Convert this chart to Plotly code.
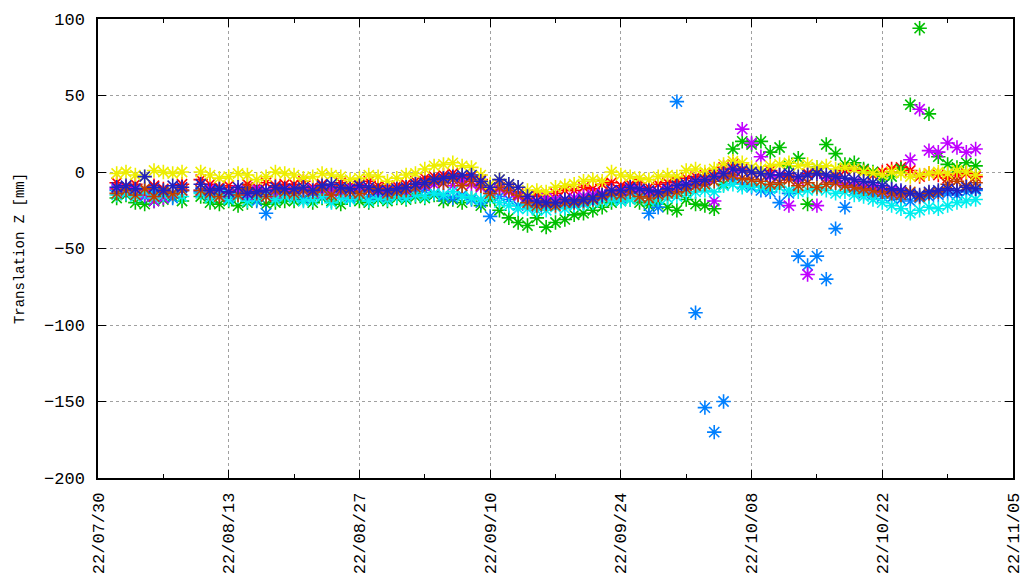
import pandas as pd
import plotly.graph_objects as go

# Daily epochs (08/09 missing)
dates = [d for d in pd.date_range("2022-08-01", "2022-11-01", freq="D") if d.strftime("%Y-%m-%d") != "2022-08-09"]

red = [-7, -10, -8, -12, -9, -11, -14, -8,
       -5, -8, -10, -9, -12, -8, -10, -7, -9, -8,
       -8, -6, -10, -8, -11, -7, -9, -8, -6, -9,
       -10, -9, -8, -6, -4, -3, -2, -1, -4, -3,
       -5, -12, -8, -10, -14, -16, -15, -16, -14, -12,
       -12, -10, -11, -8, -7, -9, -8, -7, -10, -8,
       -7, -6, -4, -3, -2, -1, 3, 5, 2, 0,
       -1, 1, -2, -3, -5, -1, 0, -4, -2, 1,
       2, 1, -2, 0, 2, 3, 1, -3, -1, -2,
       -4, -2, -1, -3]
green = [-17, -15, -20, -21, -19, -18, -16, -19,
         -16, -20, -21, -19, -22, -20, -18, -21, -20, -19,
         -19, -18, -20, -17, -19, -21, -18, -19, -20, -18,
         -19, -17, -18, -16, -17, -15, -19, -18, -20, -17,
         -22, -18, -25, -30, -33, -35, -30, -36, -33, -31,
         -28, -27, -25, -23, -20, -19, -18, -20, -22, -21,
         -23, -25, -18, -21, -22, -24, -8, 15, 20, 18,
         20, 13, 16, 4, 9, -21, 3, 18, 12, 5,
         6, 2, 0, -5, -3, 2, 44, 94, 38, 10,
         5, 3, 6, 4]
blue = [-12, -14, -11, -16, -13, -15, -17, -12,
        -13, -15, -12, -17, -14, -16, -19, -27, -16, -14,
        -15, -17, -14, -16, -13, -15, -17, -14, -16, -15,
        -16, -14, -15, -13, -12, -14, -16, -17, -15, -18,
        -20, -29, -16, -18, -22, -21, -23, -22, -20, -21,
        -21, -20, -18, -16, -15, -17, -14, -16, -27, -23,
        -12, 46, -10, -92, -154, -170, -150, -5, -8, -10,
        -12, -13, -20, -14, -55, -61, -55, -70, -37, -23,
        -12, -14, -15, -16, -17, -18, -19, -17, -16, -15,
        -14, -15, -13, -12]
magenta = [-11, -13, -12, -15, -19, -17, -14, -12,
           -12, -11, -14, -13, -12, -15, -11, -13, -14, -12,
           -13, -12, -11, -14, -12, -13, -10, -12, -11, -13,
           -12, -11, -13, -10, -9, -8, -7, -9, -6, -8,
           -10, -12, -11, -13, -16, -18, -19, -17, -18, -19,
           -17, -16, -15, -14, -12, -13, -11, -12, -14, -13,
           -12, -11, -9, -8, -7, -19, -2, 0, 28, 19,
           10, -3, -2, -22, -5, -67, -22, -4, -6, -8,
           -7, -9, -10, -11, -12, -13, 8, 41, 14, 13,
           19, 16, 13, 15]
cyan = [-15, -14, -16, -13, -17, -15, -14, -16,
        -14, -17, -15, -18, -16, -19, -17, -15, -18, -16,
        -17, -19, -18, -16, -20, -17, -18, -16, -19, -17,
        -18, -16, -17, -15, -16, -14, -15, -13, -16, -17,
        -18, -16, -20, -22, -24, -24, -25, -25, -23, -24,
        -22, -21, -20, -19, -18, -19, -18, -17, -19, -18,
        -17, -16, -14, -13, -12, -13, -9, -8, -10, -9,
        -10, -11, -10, -12, -13, -12, -11, -12, -14, -13,
        -15, -16, -18, -20, -22, -24, -27, -25, -23, -24,
        -22, -20, -19, -18]
brown = [-14, -12, -15, -11, -16, -13, -14, -12,
         -12, -14, -16, -13, -15, -11, -14, -16, -12, -13,
         -14, -12, -13, -11, -15, -12, -13, -14, -12, -11,
         -14, -13, -12, -10, -8, -6, -7, -5, -9, -6,
         -9, -14, -10, -12, -15, -20, -22, -21, -22, -20,
         -20, -19, -18, -16, -14, -15, -13, -16, -17, -15,
         -14, -13, -11, -9, -8, -6, -3, -2, -4, -5,
         -6, -8, -7, -5, -9, -7, -10, -8, -7, -9,
         -10, -11, -12, -13, -14, -15, -13, -16, -14, -13,
         -8, -6, -9, -7]
yellow = [-1, 0, -2, -3, 1, 0, -1, 0,
          0, -2, -4, -3, -1, -2, -5, -3, 0, -1,
          -2, -4, -3, -1, -2, -3, -5, -4, -2, -3,
          -6, -4, -2, -1, 2, 4, 5, 6, 4, 3,
          -2, -8, -5, -8, -10, -12, -12, -13, -10, -9,
          -8, -6, -5, -6, 0, -2, -3, -4, -5, -3,
          -2, -3, 1, 2, 0, 2, 5, 7, 6, 3,
          2, 4, 5, 6, 4, 5, 3, 4, 2, 3,
          2, 0, -1, -2, 0, -1, -3, -2, -1, 0,
          -1, 1, 0, -2]
navy = [-10, -9, -11, -3, -10, -12, -9, -10,
        -8, -12, -11, -13, -10, -14, -13, -12, -10, -11,
        -11, -10, -12, -9, -8, -10, -11, -9, -10, -12,
        -12, -11, -10, -8, -7, -5, -4, -3, -2, -2,
        -6, -10, -5, -8, -10, -16, -19, -20, -20, -18,
        -19, -18, -17, -15, -12, -12, -10, -11, -12, -13,
        -11, -9, -8, -6, -5, -3, -1, 2, 1, 0,
        -1, -2, -2, -1, -3, -2, -1, -2, -3, -4,
        -5, -6, -7, -9, -11, -12, -14, -15, -13, -12,
        -11, -12, -10, -11]

series = [red, green, blue, magenta, cyan, brown, yellow, navy]
colors = ["#ff0000", "#00c000", "#0080ff", "#c000ff", "#00eeee", "#c04000", "#eeee00", "#2020c0"]

fig = go.Figure()
for vals, col in zip(series, colors):
    fig.add_trace(go.Scatter(
        x=dates, y=vals, mode="markers",
        marker=dict(symbol="asterisk-open", size=12, color=col,
                    line=dict(color=col, width=1.6)),
        showlegend=False, hoverinfo="skip"))

tickfont = dict(family="Liberation Mono", size=17, color="#000000")
fig.update_layout(
    width=1025, height=583,
    margin=dict(l=98, r=12, t=19, b=105, autoexpand=False),
    paper_bgcolor="white", plot_bgcolor="white",
    showlegend=False,
)
fig.update_xaxes(
    type="date", automargin=False,
    range=["2022-07-30", "2022-11-05"],
    tick0="2022-07-30", dtick=14 * 86400000,
    tickformat="%y/%m/%d", tickangle=-90,
    tickfont=tickfont, ticklabelstandoff=6,
    ticks="inside", ticklen=8, tickwidth=1, tickcolor="#000000",
    showline=True, linecolor="#000000", linewidth=1.5, mirror="allticks",
    showgrid=True, gridcolor="#a0a0a0", gridwidth=1, griddash="3px,3px",
    minor=dict(ticks="inside", ticklen=4, dtick=7 * 86400000, tick0="2022-07-30",
               tickcolor="#000000", showgrid=False),
    zeroline=False,
)
fig.update_yaxes(
    range=[-200, 100], dtick=50, tick0=0, automargin=False,
    tickfont=tickfont, ticklabelstandoff=8,
    ticks="inside", ticklen=8, tickwidth=1, tickcolor="#000000",
    showline=True, linecolor="#000000", linewidth=1.5, mirror="allticks",
    showgrid=True, gridcolor="#a0a0a0", gridwidth=1, griddash="3px,3px",
    zeroline=False,
    title=dict(text="Translation Z [mm]", font=dict(family="Liberation Mono", size=14, color="#000000"), standoff=16),
)

fig.write_html("out.html")
